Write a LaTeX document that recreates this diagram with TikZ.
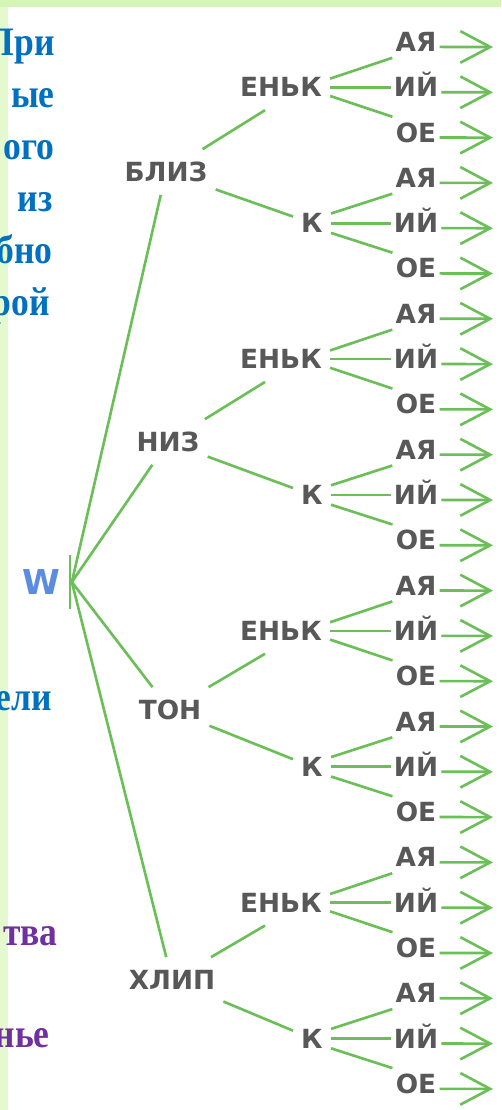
\documentclass[tikz,border=0pt]{standalone}
\usepackage{fontspec}
\setmainfont{Liberation Serif}
\newfontfamily\treefont{DejaVu Sans}
\newfontfamily\slidefont[FakeStretch=0.88]{Liberation Serif Bold}
\usetikzlibrary{arrows.meta}
\definecolor{TRgreen}{RGB}{108, 190, 88}
\definecolor{TRgray}{RGB}{88, 88, 88}
\definecolor{TRblue}{RGB}{0, 112, 192}
\definecolor{TRviolet}{RGB}{112, 48, 160}
\definecolor{TRwblue}{RGB}{92, 140, 222}
\definecolor{TRband}{RGB}{212, 245, 182}
\definecolor{TRstrip}{RGB}{228, 250, 206}

\tikzset{
	stemlabel/.style={text=TRgray, font=\treefont\bfseries\fontsize{15}{15}\selectfont, text height=10.8pt, text depth=0pt, inner xsep=4.5pt, inner ysep=7.4pt},
	sfxlabel/.style={stemlabel, inner xsep=1.7pt, inner ysep=3.4pt},
	branchline/.style={draw=TRgreen, line width=1.5pt},
	sfxarrow/.style={branchline, -{Straight Barb[length=17pt, width=18pt]}},
	slidetext/.style={font=\slidefont\fontsize{23}{23}\selectfont, anchor=base east, inner sep=0pt}
}

\begin{document}
\begin{tikzpicture}[x=0.02cm, y=-0.02cm]
	\useasboundingbox (0,0) rectangle (501,1110);
	% slide background
	\fill[white] (0,0) rectangle (501,1110);
	\fill[TRband] (0,0) rectangle (501,7);
	\fill[TRstrip] (0,7) rectangle (8,1110);

	% root
	\node[text=TRwblue, font=\treefont\bfseries\fontsize{19.5}{19.5}\selectfont, inner sep=0pt] (w) at (41,582) {W};
	\node[fill=TRgreen, minimum width=1.7pt, minimum height=31.2pt, inner sep=0pt] (root) at (70,582) {};

	% four stems, each with ЕНЬК and К and six endings
	\foreach \stemname/\sx/\sy [count=\k from 0] in {БЛИЗ/166/172, НИЗ/168/442, ТОН/170/710, ХЛИП/172/980} {
		\pgfmathsetmacro{\ry}{42+45.3*6*\k}
		\node[stemlabel] (st\k) at (\sx,\sy) {\stemname};
		\node[stemlabel] (en\k) at (281,\ry+45.3) {ЕНЬК};
		\node[stemlabel] (ka\k) at (312,\ry+4*45.3) {К};
		\draw[branchline] (root.east) -- (st\k);
		\draw[branchline] (st\k) -- (en\k.235);
		\draw[branchline] (st\k) -- (ka\k);
		\foreach \sfx/\j in {АЯ/0, ИЙ/1, ОЕ/2, АЯ/3, ИЙ/4, ОЕ/5} {
			\node[sfxlabel] (sf\k\j) at (416,\ry+45.3*\j) {\sfx};
			\coordinate (tip\k\j) at (493,\ry+45.3*\j+5);
			\draw[sfxarrow] ([yshift=-2.8pt]sf\k\j.east) -- (tip\k\j);
		}
		\draw[branchline] (en\k.10) -- (sf\k0.south west);
		\draw[branchline] (en\k.east) -- (sf\k1.west);
		\draw[branchline] (en\k.-10) -- (sf\k2.north west);
		\draw[branchline] (ka\k.27) -- (sf\k3.south west);
		\draw[branchline] (ka\k.east) -- (sf\k4.west);
		\draw[branchline] (ka\k.-27) -- (sf\k5.north west);
	}

	% slide text cut by the picture
	\node[slidetext, text=TRblue] (ln1) at (55,55) {При};
	\node[slidetext, text=TRblue] (ln2) at (55,107) {ые};
	\node[slidetext, text=TRblue] (ln3) at (55,159) {ого};
	\node[slidetext, text=TRblue] (ln4) at (53,211) {из};
	\node[slidetext, text=TRblue] (ln5) at (53,263) {бно};
	\node[slidetext, text=TRblue] (ln6) at (50,315) {рой};
	\node[slidetext, text=TRblue] (ln7) at (52,710) {ели};
	\node[slidetext, text=TRviolet] (ln8) at (58,945) {тва};
	\node[slidetext, text=TRviolet] (ln9) at (50,1047) {нье};
\end{tikzpicture}
\end{document}
